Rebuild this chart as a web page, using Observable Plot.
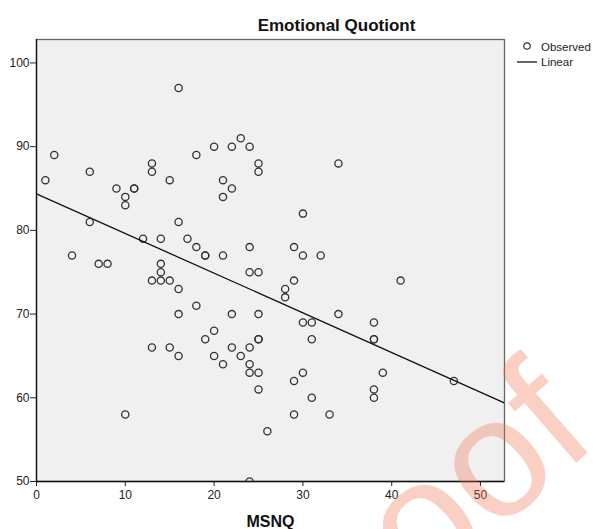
<!DOCTYPE html>
<html><head><meta charset="utf-8">
<script src="https://cdn.jsdelivr.net/npm/d3@7"></script>
<script src="https://cdn.jsdelivr.net/npm/@observablehq/plot@0.6"></script>
<style>body{margin:0;background:#fff}#chart{width:593px;height:529px}</style>
</head><body><div id="chart"></div>
<script>
// MSNQ score (x) and Emotional Quotient (y) for each observation
const msnq = [1,2,4,6,6,7,8,9,10,10,10,11,11,12,13,13,13,13,14,14,14,14,15,15,15,16,16,16,16,16,17,18,18,18,19,19,19,20,20,20,21,21,21,21,22,22,22,22,23,23,24,24,24,24,24,24,24,25,25,25,25,25,25,25,25,26,28,28,29,29,29,29,30,30,30,30,31,31,31,32,33,34,34,38,38,38,38,38,39,41,47];
const eq = [86,89,77,87,81,76,76,85,84,83,58,85,85,79,88,87,74,66,79,76,75,74,86,74,66,97,81,73,70,65,79,89,78,71,77,77,67,90,68,65,86,84,77,64,90,85,70,66,91,65,90,78,75,66,64,63,50,88,87,75,70,67,67,63,61,56,73,72,78,74,62,58,82,77,69,63,69,67,60,77,58,88,70,69,67,67,61,60,63,74,62];
const title = "Emotional Quotiont";
const xLabel = "MSNQ";
const legendLabels = ["Observed", "Linear"];
const xTicks = [0, 10, 20, 30, 40, 50];
const yTicks = [50, 60, 70, 80, 90, 100];
const xDomain = [0, 52.7];
const yDomain = [50, 102.8];
const watermark = "Proof";

const data = msnq.map((x, i) => ({x, y: eq[i]}));
// least-squares linear fit, drawn across the full x range (as SPSS does)
const mx = d3.mean(msnq), my = d3.mean(eq);
const slope = d3.sum(data, d => (d.x - mx) * (d.y - my)) / d3.sum(data, d => (d.x - mx) ** 2);
const intercept = my - slope * mx;
const fit = xDomain.map(x => ({x, y: intercept + slope * x}));

const font = "'Liberation Sans', Arial, sans-serif";

function legendMark(index, scales, values, dims) {
  const fx = dims.width - dims.marginRight;
  const g = d3.create("svg:g").attr("font-family", font).attr("font-size", 11.5)
    .attr("fill", "#222").attr("text-anchor", "start");
  g.append("circle").attr("cx", fx + 23).attr("cy", 46).attr("r", 3.2)
    .attr("fill", "none").attr("stroke", "#333").attr("stroke-width", 1.2);
  g.append("text").attr("x", fx + 37).attr("y", 47).attr("dy", "0.35em").text(legendLabels[0]);
  g.append("line").attr("x1", fx + 13).attr("x2", fx + 33).attr("y1", 62).attr("y2", 62)
    .attr("stroke", "#111").attr("stroke-width", 1.3);
  g.append("text").attr("x", fx + 37).attr("y", 62).attr("dy", "0.35em").text(legendLabels[1]);
  return g.node();
}

function watermarkMark() {
  const g = d3.create("svg:g");
  g.append("text").attr("x", 294).attr("y", 708)
    .attr("transform", "rotate(-41,294,708)")
    .attr("text-anchor", "start")
    .attr("font-family", font).attr("font-size", 170)
    .attr("fill", "#f07050").attr("fill-opacity", 0.33)
    .text(watermark);
  return g.node();
}

const chart = Plot.plot({
  width: 593, height: 529,
  marginLeft: 36, marginRight: 89, marginTop: 39, marginBottom: 48,
  style: {fontFamily: font, fontSize: "12px", background: "#fff", color: "#222"},
  x: {domain: xDomain, ticks: xTicks, tickSize: 5, tickPadding: 4, label: null},
  y: {domain: yDomain, ticks: yTicks, tickSize: 6, tickPadding: 1, label: null},
  marks: [
    Plot.frame({fill: "#f0f0f0", stroke: "#666", strokeWidth: 1.3}),
    Plot.ruleX([xDomain[0]], {stroke: "#111", strokeWidth: 1.3}),
    Plot.ruleY([yDomain[0]], {stroke: "#111", strokeWidth: 1.3}),
    Plot.dot(data, {x: "x", y: "y", r: 3.6, stroke: "#333", strokeWidth: 1.3, fill: "none", clip: true}),
    Plot.line(fit, {x: "x", y: "y", stroke: "#111", strokeWidth: 1.3, clip: true}),
    Plot.text([title], {text: d => d, frameAnchor: "top", lineAnchor: "middle", dx: 66, dy: -14, fontSize: 17, fontWeight: "bold", fill: "#111"}),
    Plot.text([xLabel], {text: d => d, frameAnchor: "bottom", lineAnchor: "middle", dy: 40, fontSize: 16, fontWeight: "bold", fill: "#111"}),
    legendMark,
    watermarkMark
  ]
});
document.getElementById("chart").appendChild(chart);
</script>
</body></html>
